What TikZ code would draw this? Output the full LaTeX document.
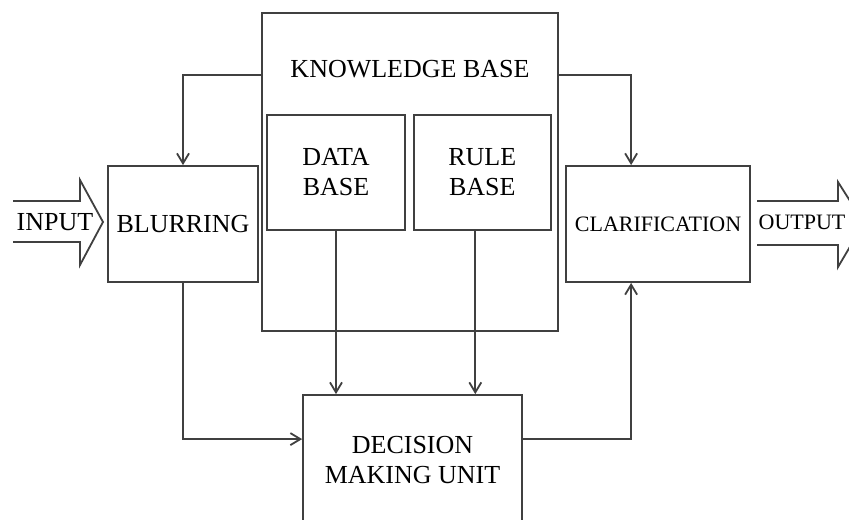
\documentclass[tikz,border=0pt]{standalone}
\usepackage{fontspec}
\setmainfont{Liberation Serif}
\usetikzlibrary{arrows.meta,positioning,calc}

\begin{document}
\begin{tikzpicture}[
    x=0.5pt, y=-0.5pt,
    node distance=3.5pt,
    line width=0.9pt,
    >={Straight Barb[length=5pt,width=6pt]},
    box/.style={draw=black!75, align=center, inner sep=0pt, font=\fontsize{13}{15}\selectfont},
    smallbox/.style={box, font=\fontsize{11}{13}\selectfont},
    link/.style={->, draw=black!75},
    bigarrow/.style={draw=black!75, fill=white, line join=miter}
]
\useasboundingbox (0,0) rectangle (849,519);

% knowledge base and its parts
\node[box, minimum width=148pt, minimum height=159pt] (kb) at (410,172) {};
\node[font=\fontsize{13}{15}\selectfont, inner sep=0pt] (kbt) at (410,69) {KNOWLEDGE BASE};
\node[box, minimum width=69pt, minimum height=57.5pt] (db) at (336,172.5) {DATA\\BASE};
\node[box, minimum width=68.5pt, minimum height=57.5pt, right=of db] (rb) {RULE\\BASE};

% side blocks
\node[box, minimum width=75pt, minimum height=58pt] (blur) at (183,224) {BLURRING};
\node[smallbox, minimum width=92pt, minimum height=58pt] (clar) at (658,224) {CLARIFICATION};
\node[box, minimum width=109.5pt, minimum height=65pt] (dmu) at (412.5,460) {DECISION\\MAKING UNIT};

% input / output arrows
\draw[bigarrow] (13,201) -- (80,201) -- (80,180) -- (103,222) -- (80,265) -- (80,242) -- (13,242);
\node[font=\fontsize{13}{15}\selectfont, inner sep=0pt] (in) at (55,222) {INPUT};
\draw[bigarrow] (757,201) -- (838,201) -- (838,182) -- (864,223) -- (838,267) -- (838,245) -- (757,245);
\node[font=\fontsize{11}{13}\selectfont, inner sep=0pt] (out) at (802,222) {OUTPUT};

% connectors
\coordinate (rbout) at ($(rb.south)+(-7,0)$);
\draw[link] ($(kb.north west)+(0,63)$) -| (blur.north);
\draw[link] ($(kb.north east)+(0,63)$) -| ($(clar.north west)+(66,0)$);
\draw[link] (db.south) -- (db.south |- dmu.north);
\draw[link] (rbout) -- (rbout |- dmu.north);
\draw[link] (blur.south) |- ($(dmu.north west)+(0,45)$);
\draw[link] ($(dmu.north east)+(0,45)$) -| ($(clar.south west)+(66,0)$);
\end{tikzpicture}
\end{document}
